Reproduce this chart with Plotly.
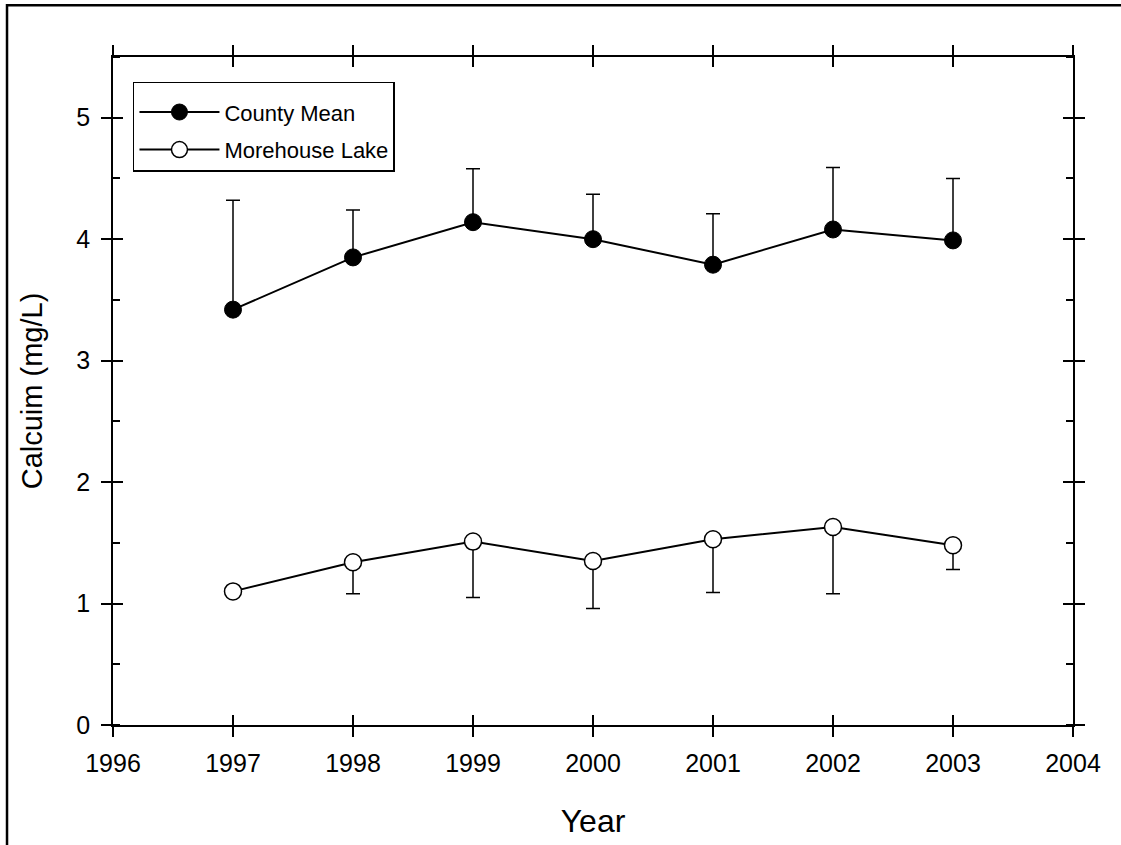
import plotly.graph_objects as go

years = [1997, 1998, 1999, 2000, 2001, 2002, 2003]
county_mean = [3.42, 3.85, 4.14, 4.00, 3.79, 4.08, 3.99]
county_upper = [4.32, 4.24, 4.58, 4.37, 4.21, 4.59, 4.50]
morehouse = [1.10, 1.34, 1.51, 1.35, 1.53, 1.63, 1.48]
morehouse_lower = [1.10, 1.08, 1.05, 0.96, 1.09, 1.08, 1.28]
x_ticks = [1996, 1997, 1998, 1999, 2000, 2001, 2002, 2003, 2004]
y_ticks = [0, 1, 2, 3, 4, 5]

county_err = [u - m for u, m in zip(county_upper, county_mean)]
more_err = [m - l for m, l in zip(morehouse, morehouse_lower)]

FONT = "Liberation Sans, Arial, sans-serif"

fig = go.Figure()
fig.add_trace(go.Scatter(
    x=years, y=county_mean, name="County Mean", mode="lines+markers",
    line=dict(color="black", width=2),
    marker=dict(symbol="circle", size=17, color="black", line=dict(color="black", width=1)),
    error_y=dict(type="data", symmetric=False, array=county_err,
                 arrayminus=[0] * len(years), color="black", thickness=1.5, width=7),
    legendgroup="a",
))
fig.add_trace(go.Scatter(
    x=years, y=morehouse, name="Morehouse Lake", mode="lines+markers",
    line=dict(color="black", width=2),
    marker=dict(symbol="circle", size=17, color="white", line=dict(color="black", width=1.5)),
    error_y=dict(type="data", symmetric=False, array=[0] * len(years),
                 arrayminus=more_err, color="black", thickness=1.5, width=7),
    legendgroup="b",
))
# helper trace to bring up the overlay axes (used for crossing ticks)
fig.add_trace(go.Scatter(x=[None], y=[None], xaxis="x2", yaxis="y2",
                         showlegend=False, hoverinfo="skip"))

axis_common = dict(showgrid=False, zeroline=False, showline=True,
                   linecolor="black", linewidth=1.5, tickcolor="black",
                   tickwidth=1.5, ticklen=10, mirror="ticks")

fig.update_layout(
    width=1121, height=845,
    paper_bgcolor="white", plot_bgcolor="white",
    margin=dict(l=113, r=48, t=57, b=117),
    font=dict(family=FONT, color="black"),
    xaxis=dict(range=[1996, 2004], tickvals=x_ticks, ticks="outside",
               tickfont=dict(size=25), ticklabelstandoff=5,
               title=dict(text="Year", font=dict(size=32), standoff=34),
               **axis_common),
    yaxis=dict(range=[0, 5.5], tickvals=y_ticks, ticks="outside",
               tickfont=dict(size=25), ticklabelstandoff=6,
               title=dict(text="Calcuim (mg/L)", font=dict(size=29), standoff=25),
               minor=dict(dtick=0.5, tick0=0, ticks="inside", ticklen=7,
                          tickwidth=1.5, tickcolor="black"),
               **axis_common),
    xaxis2=dict(range=[1996, 2004], tickvals=x_ticks, ticks="inside", overlaying="x",
                showticklabels=False, anchor="y2", **axis_common),
    yaxis2=dict(range=[0, 5.5], tickvals=y_ticks, ticks="inside", overlaying="y",
                showticklabels=False, anchor="x2", **axis_common),
    legend=dict(x=0.0208, y=0.9627, xanchor="left", yanchor="top",
                bgcolor="white", bordercolor="black", borderwidth=1.5,
                font=dict(size=22, family=FONT), tracegroupgap=6,
                traceorder="grouped", itemwidth=80,
                title=dict(text=" ", font=dict(size=6))),
    showlegend=True,
    shapes=[dict(type="rect", xref="paper", yref="paper",
                 x0=-0.1104, y0=-0.2, x1=1.06, y1=1.0775,
                 line=dict(color="black", width=2.5), fillcolor="rgba(0,0,0,0)",
                 layer="below")],
)

fig.write_html("out.html", config={"displayModeBar": False},
               post_script="document.body.style.margin='0';")
